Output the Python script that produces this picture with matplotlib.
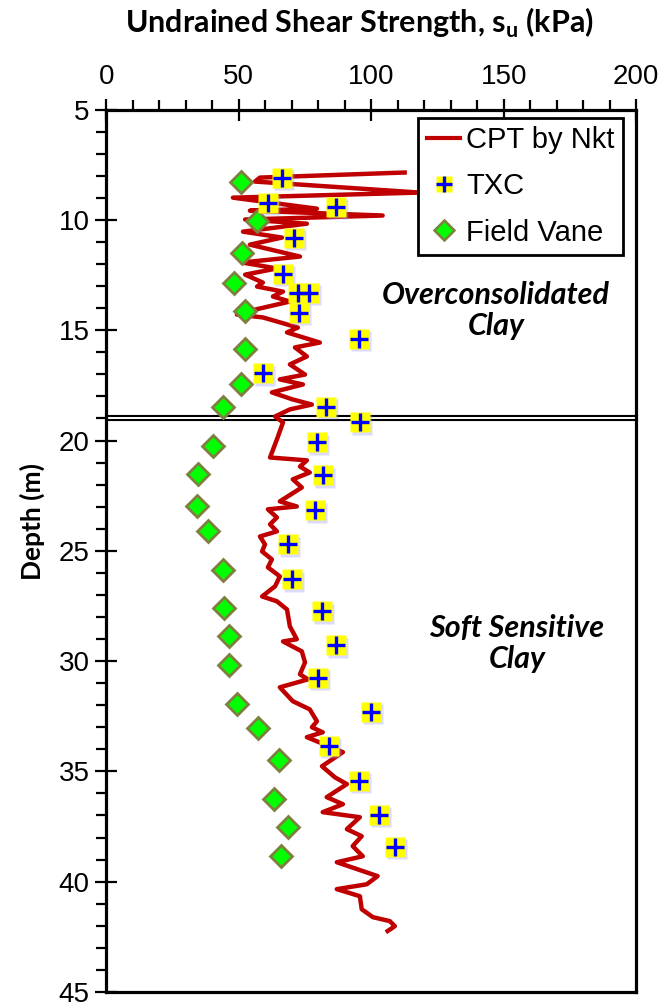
import matplotlib
matplotlib.use("Agg")
import matplotlib.pyplot as plt
from matplotlib.lines import Line2D
from matplotlib.ticker import MultipleLocator

# CPT-derived su profile (kPa) vs depth (m)
cpt_su = [112.6, 58.0, 56.1, 118.3, 47.8, 79.5, 54.2, 104.3, 52.4, 75.7,
          51.6, 66.3, 54.2, 73.1, 51.2, 64.4, 52.4, 59.1, 56.9, 66.7,
          62.9, 69.3, 53.1, 49.3, 59.1, 72.3, 68.2, 80.6, 71.2, 75.7,
          69.3, 75.0, 65.5, 74.2, 62.5, 70.4, 77.6, 69.3, 63.7, 66.7,
          64.4, 61.8, 75.7, 73.1, 76.8, 70.4, 73.8, 65.5, 71.9, 61.0,
          64.4, 61.8, 64.4, 58.0, 59.9, 58.8, 62.5, 61.0, 65.5, 63.7,
          58.8, 64.4, 68.2, 69.3, 71.9, 66.7, 73.8, 75.0, 73.1, 76.1,
          65.5, 70.4, 76.8, 79.5, 77.6, 81.7, 75.7, 89.3, 81.4, 86.3,
          90.8, 83.2, 89.3, 81.7, 95.7, 90.8, 96.4, 93.0, 96.8, 87.0,
          102.4, 98.3, 87.0, 95.7, 96.4, 100.6, 107.0, 108.9, 106.2]
cpt_depth = [7.85, 8.08, 8.26, 8.76, 8.99, 9.49, 9.58, 9.80, 9.98, 10.17,
             10.53, 10.80, 11.12, 11.66, 11.93, 12.20, 12.48, 12.84, 13.02, 13.25,
             13.47, 13.70, 14.15, 14.29, 14.42, 14.88, 15.10, 15.56, 15.78, 16.19,
             16.55, 17.01, 17.23, 17.46, 17.82, 18.14, 18.37, 18.59, 18.91, 19.18,
             19.95, 20.77, 20.90, 21.18, 21.45, 21.76, 22.13, 22.76, 22.99, 23.12,
             23.49, 23.80, 24.12, 24.35, 24.71, 25.03, 25.39, 25.75, 26.16, 26.61,
             27.07, 27.29, 27.66, 28.43, 29.01, 29.11, 29.56, 30.06, 30.60, 30.83,
             31.19, 31.82, 32.19, 32.73, 33.00, 33.23, 33.45, 34.13, 34.77, 35.27,
             35.58, 36.17, 36.49, 36.85, 37.08, 37.62, 37.94, 38.39, 38.85, 39.12,
             39.75, 40.12, 40.34, 40.66, 41.25, 41.61, 41.79, 42.02, 42.24]

# triaxial compression tests
txc_su = [66.3, 61.0, 86.6, 70.8, 66.7, 72.3, 76.5, 72.7, 95.3, 59.1,
          82.9, 95.7, 79.5, 81.7, 78.7, 68.5, 70.1, 81.4, 86.6, 79.8,
          99.8, 84.0, 95.3, 102.8, 108.8]
txc_depth = [8.08, 9.21, 9.40, 10.8, 12.43, 13.29, 13.29, 14.20, 15.38, 16.96,
             18.46, 19.18, 20.09, 21.58, 23.17, 24.71, 26.30, 27.75, 29.29, 30.78,
             32.32, 33.86, 35.45, 36.99, 38.44]

# field vane tests
fv_su = [50.8, 56.8, 51.2, 48.2, 52.4, 52.4, 50.8, 44.1, 40.3, 34.7,
         34.3, 38.4, 44.1, 44.4, 46.3, 46.3, 49.3, 57.2, 65.2, 63.3,
         68.5, 65.9]
fv_depth = [8.26, 10.03, 11.52, 12.84, 14.11, 15.83, 17.46, 18.46, 20.27, 21.54,
            22.99, 24.12, 25.89, 27.61, 28.88, 30.19, 31.96, 33.05, 34.50, 36.26,
            37.53, 38.85]

boundary_depth = 19.0

plt.rcParams['font.family'] = ['Liberation Sans', 'DejaVu Sans']
plt.rcParams['mathtext.fontset'] = 'custom'

fig = plt.figure(figsize=(6.6, 10.06), dpi=100)
ax = fig.add_axes([0.161, 0.014, 0.803, 0.877])

red = '#C00000'
ax.plot(cpt_su, cpt_depth, color=red, lw=3.2, solid_joinstyle='round', zorder=3)

# layer boundary (double line)
ax.axhline(boundary_depth, color='black', lw=4.4, zorder=2)
ax.axhline(boundary_depth, color='white', lw=1.4, zorder=2)

# field vane
ax.plot(fv_su, fv_depth, ls='none', marker='D', ms=11, mfc='#00FF00',
        mec='#7F7F3F', mew=2, zorder=4)

# TXC: soft blue shadow, yellow square, blue plus
ax.plot([s + 0.8 for s in txc_su], [d + 0.1 for d in txc_depth], ls='none',
        marker='s', ms=15, mfc='#9999FF', mec='none', alpha=0.35, zorder=4)
ax.plot(txc_su, txc_depth, ls='none', marker='s', ms=14.5, mfc='#FFFF00',
        mec='none', zorder=5)
ax.plot(txc_su, txc_depth, ls='none', marker='+', ms=13, mec='#0000FF',
        mew=2.4, zorder=6)

ax.set_xlim(0, 200)
ax.set_ylim(45, 5)
ax.xaxis.tick_top()
ax.xaxis.set_major_locator(MultipleLocator(50))
ax.xaxis.set_minor_locator(MultipleLocator(10))
ax.yaxis.set_major_locator(MultipleLocator(5))
ax.yaxis.set_minor_locator(MultipleLocator(1))
ax.tick_params(which='major', direction='inout', length=16, width=1.6,
               labelsize=20, pad=6)
ax.tick_params(which='minor', direction='out', length=7, width=1.6)
ax.tick_params(axis='y', which='major', pad=4)
for sp in ax.spines.values():
    sp.set_linewidth(2.3)

ax.set_ylabel('Depth (m)', family='Lato', fontweight='bold', fontsize=19)
ax.yaxis.set_label_coords(-0.115, 0.533)
fig.text(0.545, 0.977, r'Undrained Shear Strength, s$_\mathregular{u}$ (kPa)',
         family='Lato', fontweight='bold', fontsize=22, ha='center', va='center')

ax.text(147, 14.1, 'Overconsolidated\nClay', family='Lato', fontweight='bold',
        style='italic', fontsize=22, ha='center', va='center', linespacing=1.15)
ax.text(155, 29.2, 'Soft Sensitive\nClay', family='Lato', fontweight='bold',
        style='italic', fontsize=22, ha='center', va='center', linespacing=1.15)

h_cpt = Line2D([], [], color=red, lw=3)
h_txc = (Line2D([], [], ls='none', marker='s', ms=12, mfc='#FFFF00', mec='none'),
         Line2D([], [], ls='none', marker='+', ms=11, mec='#0000FF', mew=2.4))
h_fv = Line2D([], [], ls='none', marker='D', ms=10, mfc='#00FF00', mec='#7F7F3F', mew=1.8)
leg = ax.legend([h_cpt, h_txc, h_fv], ['CPT by Nkt', 'TXC', 'Field Vane'],
                loc='upper right', bbox_to_anchor=(0.9755, 0.991), borderaxespad=0,
                fontsize=21, fancybox=False, framealpha=1, edgecolor='black',
                handlelength=1.15, handletextpad=0.2, labelspacing=0.62,
                borderpad=0.3)
leg.get_frame().set_linewidth(2)
leg.set_zorder(10)

fig.savefig('out.png', dpi=100)
